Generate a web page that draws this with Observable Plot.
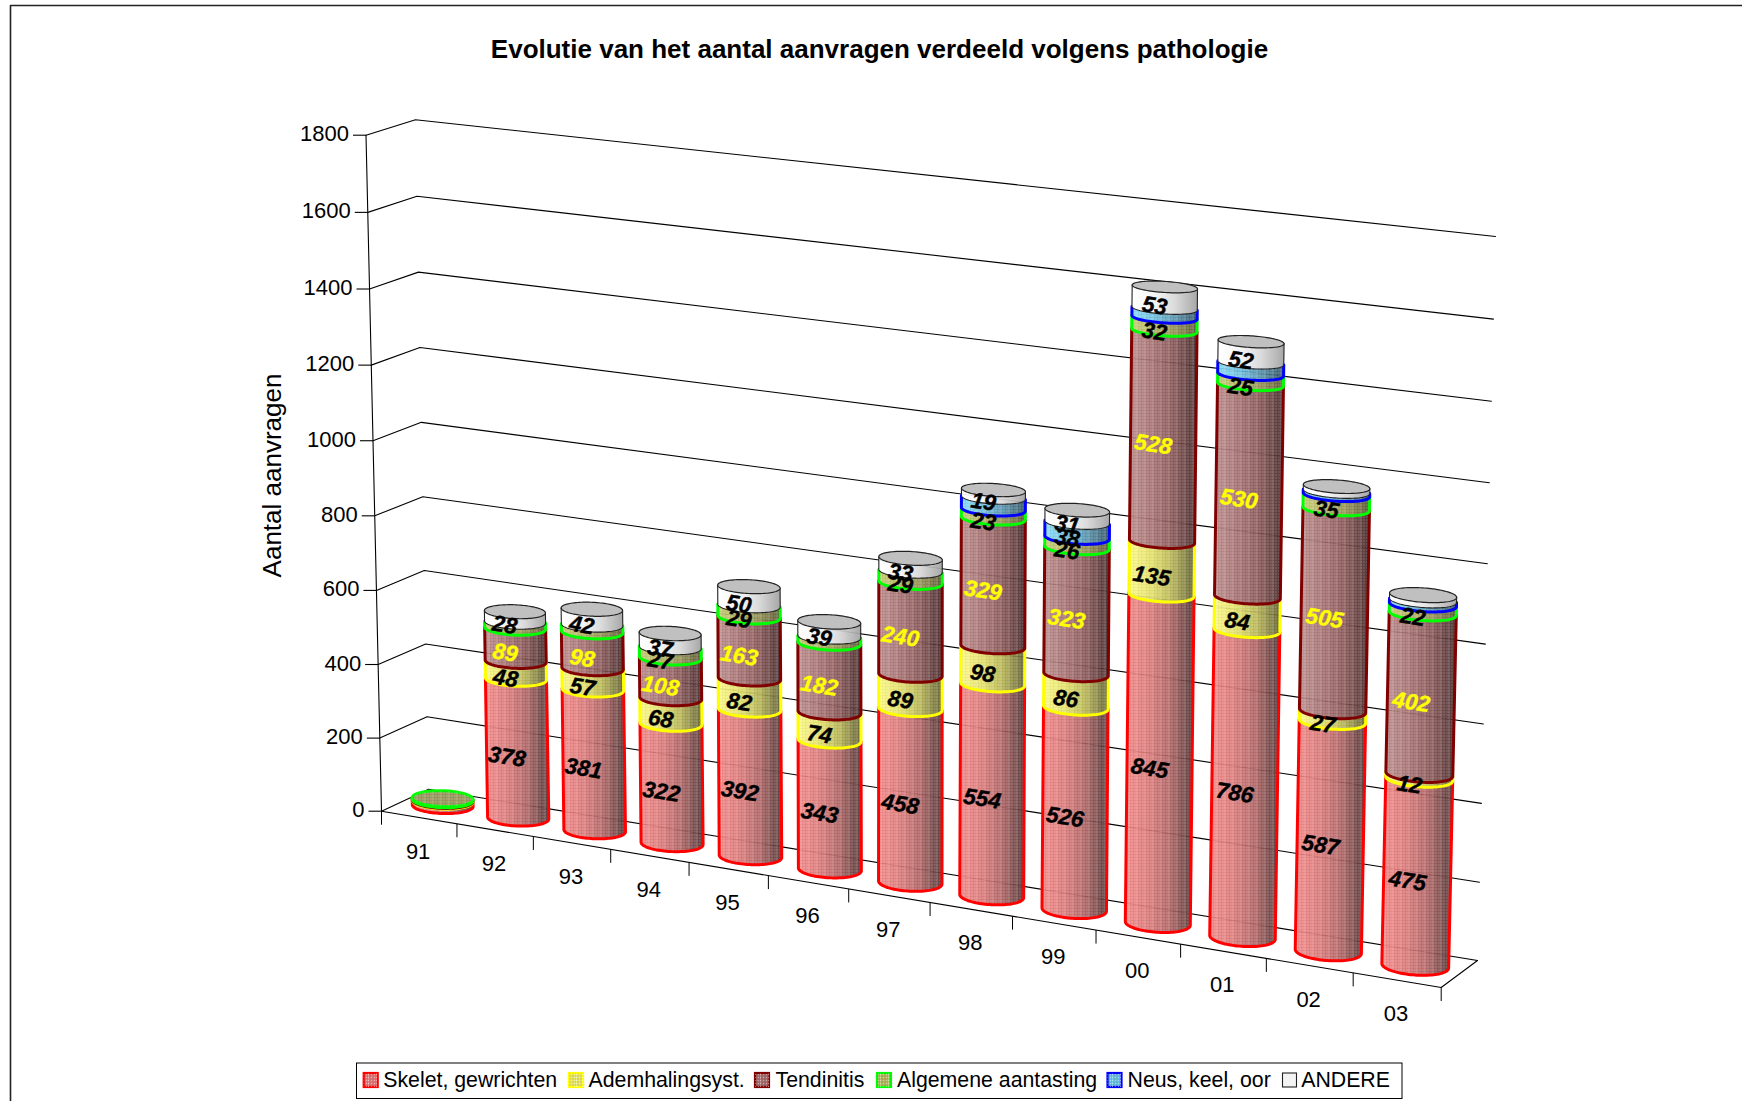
<!DOCTYPE html>
<html lang="nl">
<head>
<meta charset="utf-8">
<title>Evolutie van het aantal aanvragen</title>
<style>html,body{margin:0;padding:0;background:#fff}svg{display:block}</style>
<script src="https://cdn.jsdelivr.net/npm/d3@7"></script>
<script src="https://cdn.jsdelivr.net/npm/@observablehq/plot@0.6"></script>
</head>
<body>
<div id="chart"></div>
<script>
const chartTitle = "Evolutie van het aantal aanvragen verdeeld volgens pathologie";
const yTitle = "Aantal aanvragen";
const years = ["91","92","93","94","95","96","97","98","99","00","01","02","03"];
const yTicks = [0,200,400,600,800,1000,1200,1400,1600,1800];
const seriesNames = ["Skelet, gewrichten","Ademhalingsyst.","Tendinitis","Algemene aantasting","Neus, keel, oor","ANDERE"];

const skelet  = [12,378,381,322,392,343,458,554,526,845,786,587,475];
const adem    = [2,48,57,68,82,74,89,98,86,135,84,27,12];
const tend    = [2,89,98,108,163,182,240,329,323,528,530,505,402];
const algemeen= [3,16,18,27,29,16,29,23,26,32,25,35,22];
const neus    = [0,0,0,0,0,0,0,30,38,22,28,8,10];
const andere  = [0,28,42,37,50,39,33,19,31,53,52,12,13];
const series = [skelet,adem,tend,algemeen,neus,andere];

// Which values carry a printed label in the reference
const unlabelled = [
  [0],[0],[0],
  [0,1,2,5],
  [0,1,2,3,4,5,6,7,9,10,11,12],
  [0,11,12]
];

const edgeColor = ["#ff0000","#ffff00","#800000","#00ff00","#0000ff","#222222"];
const labelColor = ["#000","#000","#ffff00","#000","#000","#000"];
const shades = [
  ["#f78888","#dc7878","#b06262","#684040","#563838"],
  ["#ffff84","#e4e466","#b8b852","#767638","#626232"],
  ["#bc8c8c","#a46e6e","#865454","#563434","#442c2c"],
  ["#c4d070","#b0b460","#929250","#666638","#54542e"],
  ["#84e0ff","#68c0e0","#5494b0","#386478","#2e5264"],
  ["#ffffff","#f4f4f4","#d8d8d8","#b0b0b0","#a0a0a0"]
];
const capFill = ["#d98080","#d0d060","#a06868","#9c9c62","#70b0d0","#c0c0c0"];

// ---- view of the 3D box: corners of the plot box on the page
const view = {
  fl:[381,810.7], flt:[365.5,134.7],
  bl:[428,788.7], blt:[415,119.3],
  br:[1477,960],  brt:[1495,236],
  fr:[1440.7,987],frt:[1456,256],
  kc:-0.08, kv:-0.03, vMax:1800, n:years.length
};
const warp = (s,k) => s*(1+k)/(1+k*s);
const mix = (a,b,t) => [a[0]+(b[0]-a[0])*t, a[1]+(b[1]-a[1])*t];
// c: category position (0..13), d: depth (0 front, 1 back), v: value
function project(c,d,v){
  const t = warp(c/view.n,view.kc), s = warp(v/view.vMax,view.kv);
  const bot = mix(mix(view.fl,view.fr,t), mix(view.bl,view.br,t), d);
  const top = mix(mix(view.flt,view.frt,t), mix(view.blt,view.brt,t), d);
  const p = mix(bot,top,s);
  return {x:p[0],y:p[1]};
}
const rc = 0.36, rd = 0.3, N = 96, cMid = 0.485, dMid = 0.53;
function ring(i,v){
  const flat = 1 - 0.22*v/view.vMax; // caps flatten as they near eye level
  return d3.range(N).map(k=>{
    const a = 2*Math.PI*k/N;
    return project(i+cMid+rc*Math.cos(a), dMid+rd*flat*Math.sin(a), v);
  });
}
function lowerArc(pts){
  const L = d3.minIndex(pts,p=>p.x), R = d3.maxIndex(pts,p=>p.x);
  const walk = dir => { const o=[]; for(let k=L;;k=(k+dir+N)%N){o.push(pts[k]); if(k===R)break;} return o; };
  const a = walk(1), b = walk(-1);
  return d3.mean(a,p=>p.y) > d3.mean(b,p=>p.y) ? a : b;
}

// ---- fills: shaded gradient plus a fine dither
function defsMark(){
  const defs = d3.create("svg:defs");
  shades.forEach((stops,s)=>{
    const g = defs.append("linearGradient").attr("id","shade"+s).attr("x1",0).attr("x2",1).attr("y1",0).attr("y2",0);
    [0,.35,.65,.9,1].forEach((o,k)=>g.append("stop").attr("offset",o).attr("stop-color",stops[k]));
    if(s===5) return;
    const p = defs.append("pattern").attr("id","dither"+s).attr("patternUnits","userSpaceOnUse")
      .attr("width",8).attr("height",3);
    [0,3,6].forEach(x=>{
      p.append("rect").attr("x",x).attr("y",0).attr("width",1).attr("height",1).attr("fill","#fff").attr("opacity",.4);
      p.append("rect").attr("x",x+1.5).attr("y",1.5).attr("width",1).attr("height",1).attr("fill","#400").attr("opacity",.3);
    });
    p.append("rect").attr("x",0).attr("y",0).attr("width",1).attr("height",3).attr("fill","#fff").attr("opacity",.18);
  });
  return defs.node();
}

// ---- marks
const marks = [defsMark];
const boxLine = pts => Plot.line(pts,{x:"x",y:"y",stroke:"#000",strokeWidth:1.1});

// outer frame (open at the right and bottom, as cropped in the reference)
marks.push(Plot.line([{x:10,y:1101},{x:10,y:5},{x:1742,y:5}],{x:"x",y:"y",stroke:"#222",strokeWidth:1.6}));

// gridlines on side and back walls
for(const v of yTicks){
  marks.push(boxLine([project(0,0,v),project(0,1,v),project(view.n,1,v)]));
  const a = project(0,0,v);
  marks.push(Plot.link([a],{x1:d=>d.x-13,y1:"y",x2:"x",y2:"y",stroke:"#000",strokeWidth:1.1}));
}
// vertical axis and floor
marks.push(boxLine([project(0,0,0),project(0,0,1800)]));
marks.push(boxLine([project(0,0,0),project(view.n,0,0),project(view.n,1,0)]));
// category ticks
marks.push(Plot.link(d3.range(view.n+1).map(c=>project(c,0,0)),{x1:"x",y1:"y",x2:"x",y2:d=>d.y+13.5,stroke:"#000",strokeWidth:1}));

// cylinders
years.forEach((yr,i)=>{
  let base = 0, topS = 0;
  series.forEach((arr,s)=>{ if(arr[i]>0) topS = s; });
  series.forEach((arr,s)=>{
    const val = arr[i];
    if(!val) return;
    const v0 = base, v1 = base+val; base = v1;
    const lo = lowerArc(ring(i,v0)), up = lowerArc(ring(i,v1));
    const poly = [...lo,...up.slice().reverse()];
    marks.push(Plot.line(poly,{x:"x",y:"y",fill:`url(#shade${s})`,stroke:"none",fillOpacity:.92}));
    if(s<5) marks.push(Plot.line(poly,{x:"x",y:"y",fill:`url(#dither${s})`,stroke:"none"}));
    const outline = [up[0],...lo,up[up.length-1]];
    marks.push(Plot.line(outline,{x:"x",y:"y",stroke:edgeColor[s],strokeWidth:s===5?1.1:3,strokeLinejoin:"round"}));
    if(s===topS){
      const cap = ring(i,v1); cap.push(cap[0]);
      marks.push(Plot.line(cap,{x:"x",y:"y",fill:capFill[s],stroke:edgeColor[s],strokeWidth:s===5?1.2:3}));
      if(s<5) marks.push(Plot.line(cap,{x:"x",y:"y",fill:`url(#dither${s})`,stroke:"none"}));
    }
  });
});

// data labels
const labelRows = [];
years.forEach((yr,i)=>{
  let base = 0;
  series.forEach((arr,s)=>{
    const val = arr[i];
    if(val && !unlabelled[s].includes(i)){
      const p = project(i+.5,.5,base+val/2);
      labelRows.push({x:p.x-10,y:p.y+7.5,text:String(val),color:labelColor[s]});
    }
    base += val;
  });
});
marks.push(Plot.text(labelRows,{x:"x",y:"y",text:"text",fill:"color",stroke:"color",strokeWidth:0.4,fontSize:22.5,fontWeight:"bold",fontStyle:"italic",rotate:9,fontFamily:"Liberation Sans"}));

// axis labels
const fontBase = {fontFamily:"Liberation Sans",fill:"#000"};
marks.push(Plot.text(yTicks.map(v=>({...project(0,0,v),v})),{x:d=>d.x-17,y:d=>d.y-1,text:d=>String(d.v),textAnchor:"end",fontSize:22,...fontBase}));
marks.push(Plot.text(years.map((yr,i)=>({...project(i+.5,0,0),yr})),{x:d=>d.x-1,y:d=>d.y+34,text:"yr",fontSize:22,...fontBase}));
marks.push(Plot.text([yTitle],{x:()=>272,y:()=>475,text:d=>d,rotate:-90,fontSize:26,...fontBase}));
marks.push(Plot.text([chartTitle],{x:()=>879,y:()=>49,text:d=>d,fontSize:26,fontWeight:"bold",...fontBase}));

// legend
const legendSwatchX = [362.7,568,754,876,1106.5,1281.5];
const legendTextX = [382.7,588,775,896.5,1127,1300.7];
marks.push(Plot.rect([0],{x1:()=>356.5,x2:()=>1402,y1:()=>1063,y2:()=>1098.5,fill:"#fff",stroke:"#000",strokeWidth:1}));
seriesNames.forEach((name,s)=>{
  const r = {x1:()=>legendSwatchX[s]+1,x2:()=>legendSwatchX[s]+15,y1:()=>1073,y2:()=>1087};
  const sw = s===5?1.1:2.2;
  marks.push(Plot.rect([0],{...r,fill:shades[s][1],stroke:edgeColor[s],strokeWidth:sw}));
  if(s<5) marks.push(Plot.rect([0],{...r,fill:`url(#dither${s})`}));
  marks.push(Plot.text([name],{x:()=>legendTextX[s],y:()=>1080,text:d=>d,textAnchor:"start",fontSize:21.3,...fontBase}));
});

const chart = Plot.plot({
  width:1742,height:1101,margin:0,
  x:{type:"linear",domain:[0,1742],range:[0,1742],axis:null},
  y:{type:"linear",domain:[0,1101],range:[0,1101],axis:null},
  style:{background:"#fff"},
  marks
});
document.getElementById("chart").append(chart);
</script>
</body>
</html>
